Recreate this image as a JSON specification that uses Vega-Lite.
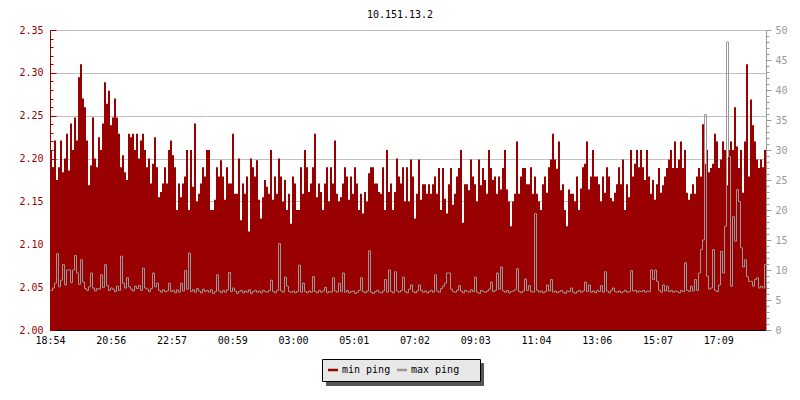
{
"$schema": "https://vega.github.io/schema/vega-lite/v6.json",
"width": 716, "height": 300,
"autosize": {"type": "none"},
"padding": {"left": 50, "top": 30, "right": 34, "bottom": 70},
"background": "white",
"title": {"text": "10.151.13.2", "font": "DejaVu Sans Mono", "fontSize": 10, "fontWeight": "normal", "color": "black", "anchor": "middle", "dx": -8, "dy": 11, "baseline": "alphabetic", "offset": 8},
"config": {"view": {"stroke": null}, "font": "DejaVu Sans Mono"},
"data": {"values": [
{"t":0,"mn":2.210,"mx":6.6},{"t":4,"mn":2.190,"mx":7.0},{"t":8,"mn":2.221,"mx":7.8},{"t":12,"mn":2.175,"mx":12.7},{"t":16,"mn":2.190,"mx":7.2},{"t":20,"mn":2.221,"mx":8.3},{"t":24,"mn":2.184,"mx":10.9},{"t":28,"mn":2.200,"mx":7.5},{"t":32,"mn":2.229,"mx":10.0},{"t":36,"mn":2.186,"mx":10.0},
{"t":40,"mn":2.241,"mx":7.9},{"t":44,"mn":2.210,"mx":10.0},{"t":48,"mn":2.248,"mx":12.4},{"t":52,"mn":2.221,"mx":9.5},{"t":56,"mn":2.295,"mx":7.6},{"t":60,"mn":2.310,"mx":11.7},{"t":64,"mn":2.270,"mx":8.0},{"t":68,"mn":2.260,"mx":6.9},{"t":72,"mn":2.221,"mx":6.6},{"t":76,"mn":2.169,"mx":7.2},
{"t":80,"mn":2.192,"mx":9.5},{"t":84,"mn":2.248,"mx":7.0},{"t":88,"mn":2.200,"mx":6.5},{"t":92,"mn":2.190,"mx":6.9},{"t":96,"mn":2.225,"mx":6.8},{"t":100,"mn":2.210,"mx":9.2},{"t":104,"mn":2.241,"mx":7.1},{"t":108,"mn":2.289,"mx":10.9},{"t":112,"mn":2.264,"mx":7.4},{"t":116,"mn":2.279,"mx":6.6},
{"t":120,"mn":2.239,"mx":7.0},{"t":124,"mn":2.248,"mx":6.8},{"t":128,"mn":2.270,"mx":6.4},{"t":132,"mn":2.248,"mx":7.3},{"t":136,"mn":2.229,"mx":6.6},{"t":140,"mn":2.190,"mx":12.3},{"t":144,"mn":2.204,"mx":7.8},{"t":148,"mn":2.184,"mx":7.0},{"t":152,"mn":2.175,"mx":8.7},{"t":156,"mn":2.229,"mx":7.2},
{"t":160,"mn":2.225,"mx":6.8},{"t":164,"mn":2.229,"mx":6.5},{"t":168,"mn":2.210,"mx":7.3},{"t":172,"mn":2.229,"mx":6.9},{"t":176,"mn":2.200,"mx":7.4},{"t":180,"mn":2.221,"mx":6.6},{"t":184,"mn":2.229,"mx":10.3},{"t":188,"mn":2.210,"mx":7.0},{"t":192,"mn":2.190,"mx":6.8},{"t":196,"mn":2.200,"mx":6.4},
{"t":200,"mn":2.171,"mx":6.9},{"t":204,"mn":2.194,"mx":9.5},{"t":208,"mn":2.225,"mx":7.2},{"t":212,"mn":2.190,"mx":7.8},{"t":216,"mn":2.155,"mx":6.6},{"t":220,"mn":2.161,"mx":6.3},{"t":224,"mn":2.171,"mx":6.7},{"t":228,"mn":2.190,"mx":6.4},{"t":232,"mn":2.171,"mx":6.5},{"t":236,"mn":2.210,"mx":7.8},
{"t":240,"mn":2.221,"mx":6.4},{"t":244,"mn":2.204,"mx":6.6},{"t":248,"mn":2.190,"mx":6.2},{"t":252,"mn":2.140,"mx":6.7},{"t":256,"mn":2.171,"mx":6.3},{"t":260,"mn":2.155,"mx":7.8},{"t":264,"mn":2.171,"mx":6.5},{"t":268,"mn":2.179,"mx":9.9},{"t":272,"mn":2.210,"mx":6.8},{"t":276,"mn":2.140,"mx":12.8},
{"t":280,"mn":2.210,"mx":6.4},{"t":284,"mn":2.167,"mx":6.7},{"t":288,"mn":2.241,"mx":6.3},{"t":292,"mn":2.150,"mx":6.9},{"t":296,"mn":2.159,"mx":6.5},{"t":300,"mn":2.171,"mx":6.2},{"t":304,"mn":2.190,"mx":6.8},{"t":308,"mn":2.179,"mx":6.4},{"t":312,"mn":2.210,"mx":6.6},{"t":316,"mn":2.210,"mx":6.3},
{"t":320,"mn":2.140,"mx":6.7},{"t":324,"mn":2.140,"mx":6.1},{"t":328,"mn":2.152,"mx":6.4},{"t":332,"mn":2.190,"mx":9.2},{"t":336,"mn":2.179,"mx":6.5},{"t":340,"mn":2.198,"mx":6.2},{"t":344,"mn":2.179,"mx":6.6},{"t":348,"mn":2.152,"mx":6.3},{"t":352,"mn":2.190,"mx":6.7},{"t":356,"mn":2.171,"mx":9.6},
{"t":360,"mn":2.171,"mx":6.4},{"t":364,"mn":2.229,"mx":7.0},{"t":368,"mn":2.159,"mx":6.5},{"t":372,"mn":2.159,"mx":6.1},{"t":376,"mn":2.200,"mx":6.4},{"t":380,"mn":2.128,"mx":6.6},{"t":384,"mn":2.171,"mx":6.2},{"t":388,"mn":2.159,"mx":6.5},{"t":392,"mn":2.179,"mx":6.3},{"t":396,"mn":2.115,"mx":6.7},
{"t":400,"mn":2.200,"mx":6.1},{"t":404,"mn":2.190,"mx":6.4},{"t":408,"mn":2.179,"mx":6.6},{"t":412,"mn":2.198,"mx":6.3},{"t":416,"mn":2.152,"mx":6.5},{"t":420,"mn":2.130,"mx":6.2},{"t":424,"mn":2.155,"mx":6.6},{"t":428,"mn":2.175,"mx":6.4},{"t":432,"mn":2.167,"mx":6.3},{"t":436,"mn":2.159,"mx":6.6},
{"t":440,"mn":2.210,"mx":8.3},{"t":444,"mn":2.152,"mx":6.4},{"t":448,"mn":2.179,"mx":6.2},{"t":452,"mn":2.159,"mx":6.6},{"t":456,"mn":2.200,"mx":14.4},{"t":460,"mn":2.179,"mx":6.5},{"t":464,"mn":2.150,"mx":6.3},{"t":468,"mn":2.175,"mx":8.8},{"t":472,"mn":2.140,"mx":7.3},{"t":476,"mn":2.159,"mx":6.4},
{"t":480,"mn":2.124,"mx":6.3},{"t":484,"mn":2.179,"mx":6.5},{"t":488,"mn":2.171,"mx":6.2},{"t":492,"mn":2.140,"mx":6.4},{"t":496,"mn":2.140,"mx":10.8},{"t":500,"mn":2.190,"mx":6.3},{"t":504,"mn":2.159,"mx":7.8},{"t":508,"mn":2.210,"mx":6.4},{"t":512,"mn":2.190,"mx":6.2},{"t":516,"mn":2.161,"mx":6.5},
{"t":520,"mn":2.171,"mx":6.3},{"t":524,"mn":2.190,"mx":8.9},{"t":528,"mn":2.229,"mx":6.4},{"t":532,"mn":2.155,"mx":6.2},{"t":536,"mn":2.171,"mx":6.6},{"t":540,"mn":2.161,"mx":6.3},{"t":544,"mn":2.140,"mx":6.5},{"t":548,"mn":2.171,"mx":7.1},{"t":552,"mn":2.190,"mx":6.2},{"t":556,"mn":2.150,"mx":6.4},
{"t":560,"mn":2.190,"mx":6.3},{"t":564,"mn":2.171,"mx":8.7},{"t":568,"mn":2.221,"mx":6.5},{"t":572,"mn":2.159,"mx":6.3},{"t":576,"mn":2.150,"mx":7.8},{"t":580,"mn":2.155,"mx":6.4},{"t":584,"mn":2.171,"mx":9.5},{"t":588,"mn":2.190,"mx":6.3},{"t":592,"mn":2.179,"mx":6.6},{"t":596,"mn":2.152,"mx":6.2},
{"t":600,"mn":2.179,"mx":6.4},{"t":604,"mn":2.159,"mx":6.5},{"t":608,"mn":2.190,"mx":6.1},{"t":612,"mn":2.171,"mx":6.3},{"t":616,"mn":2.140,"mx":6.6},{"t":620,"mn":2.159,"mx":8.7},{"t":624,"mn":2.136,"mx":6.4},{"t":628,"mn":2.161,"mx":6.2},{"t":632,"mn":2.150,"mx":6.5},{"t":636,"mn":2.183,"mx":13.2},
{"t":640,"mn":2.190,"mx":6.3},{"t":644,"mn":2.190,"mx":6.1},{"t":648,"mn":2.171,"mx":6.4},{"t":652,"mn":2.171,"mx":6.6},{"t":656,"mn":2.161,"mx":6.3},{"t":660,"mn":2.159,"mx":6.2},{"t":664,"mn":2.190,"mx":6.5},{"t":668,"mn":2.140,"mx":8.4},{"t":672,"mn":2.210,"mx":6.3},{"t":676,"mn":2.161,"mx":10.0},
{"t":680,"mn":2.171,"mx":6.4},{"t":684,"mn":2.140,"mx":6.2},{"t":688,"mn":2.161,"mx":9.7},{"t":692,"mn":2.200,"mx":6.5},{"t":696,"mn":2.179,"mx":6.3},{"t":700,"mn":2.171,"mx":6.6},{"t":704,"mn":2.190,"mx":8.8},{"t":708,"mn":2.150,"mx":6.4},{"t":712,"mn":2.190,"mx":6.2},{"t":716,"mn":2.150,"mx":6.8},
{"t":720,"mn":2.199,"mx":7.5},{"t":724,"mn":2.179,"mx":6.4},{"t":728,"mn":2.130,"mx":6.2},{"t":732,"mn":2.159,"mx":6.5},{"t":736,"mn":2.199,"mx":7.5},{"t":740,"mn":2.152,"mx":6.6},{"t":744,"mn":2.170,"mx":6.3},{"t":748,"mn":2.170,"mx":6.5},{"t":752,"mn":2.159,"mx":6.2},{"t":756,"mn":2.170,"mx":6.4},
{"t":760,"mn":2.159,"mx":6.6},{"t":764,"mn":2.170,"mx":6.3},{"t":768,"mn":2.179,"mx":9.2},{"t":772,"mn":2.159,"mx":6.5},{"t":776,"mn":2.189,"mx":6.3},{"t":780,"mn":2.140,"mx":6.9},{"t":784,"mn":2.189,"mx":7.3},{"t":788,"mn":2.153,"mx":7.8},{"t":792,"mn":2.136,"mx":9.5},{"t":796,"mn":2.170,"mx":9.5},
{"t":800,"mn":2.189,"mx":6.8},{"t":804,"mn":2.146,"mx":6.4},{"t":808,"mn":2.159,"mx":6.3},{"t":812,"mn":2.179,"mx":6.6},{"t":816,"mn":2.189,"mx":7.4},{"t":820,"mn":2.210,"mx":6.5},{"t":824,"mn":2.125,"mx":6.2},{"t":828,"mn":2.170,"mx":6.6},{"t":832,"mn":2.170,"mx":6.4},{"t":836,"mn":2.163,"mx":6.3},
{"t":840,"mn":2.199,"mx":6.7},{"t":844,"mn":2.179,"mx":6.4},{"t":848,"mn":2.170,"mx":8.8},{"t":852,"mn":2.150,"mx":6.3},{"t":856,"mn":2.199,"mx":6.1},{"t":860,"mn":2.169,"mx":6.6},{"t":864,"mn":2.189,"mx":6.4},{"t":868,"mn":2.175,"mx":6.3},{"t":872,"mn":2.159,"mx":6.5},{"t":876,"mn":2.210,"mx":6.8},
{"t":880,"mn":2.189,"mx":8.0},{"t":884,"mn":2.175,"mx":6.4},{"t":888,"mn":2.179,"mx":6.6},{"t":892,"mn":2.159,"mx":9.5},{"t":896,"mn":2.179,"mx":6.8},{"t":900,"mn":2.164,"mx":10.5},{"t":904,"mn":2.189,"mx":6.5},{"t":908,"mn":2.210,"mx":6.3},{"t":912,"mn":2.164,"mx":6.6},{"t":916,"mn":2.150,"mx":6.2},
{"t":920,"mn":2.121,"mx":6.4},{"t":924,"mn":2.150,"mx":6.5},{"t":928,"mn":2.159,"mx":6.7},{"t":932,"mn":2.220,"mx":10.2},{"t":936,"mn":2.159,"mx":6.4},{"t":940,"mn":2.179,"mx":6.2},{"t":944,"mn":2.189,"mx":6.5},{"t":948,"mn":2.189,"mx":8.5},{"t":952,"mn":2.170,"mx":6.6},{"t":956,"mn":2.170,"mx":7.4},
{"t":960,"mn":2.190,"mx":6.4},{"t":964,"mn":2.159,"mx":6.3},{"t":968,"mn":2.179,"mx":19.4},{"t":972,"mn":2.159,"mx":6.6},{"t":976,"mn":2.150,"mx":6.3},{"t":980,"mn":2.140,"mx":6.5},{"t":984,"mn":2.170,"mx":6.2},{"t":988,"mn":2.179,"mx":6.4},{"t":992,"mn":2.160,"mx":7.5},{"t":996,"mn":2.190,"mx":6.5},
{"t":1000,"mn":2.199,"mx":8.4},{"t":1004,"mn":2.229,"mx":6.3},{"t":1008,"mn":2.199,"mx":6.5},{"t":1012,"mn":2.188,"mx":6.2},{"t":1016,"mn":2.220,"mx":6.4},{"t":1020,"mn":2.163,"mx":6.6},{"t":1024,"mn":2.170,"mx":6.3},{"t":1028,"mn":2.140,"mx":6.1},{"t":1032,"mn":2.121,"mx":6.5},{"t":1036,"mn":2.164,"mx":6.4},
{"t":1040,"mn":2.159,"mx":7.0},{"t":1044,"mn":2.159,"mx":6.3},{"t":1048,"mn":2.150,"mx":6.1},{"t":1052,"mn":2.179,"mx":6.4},{"t":1056,"mn":2.140,"mx":6.6},{"t":1060,"mn":2.165,"mx":6.3},{"t":1064,"mn":2.190,"mx":6.5},{"t":1068,"mn":2.194,"mx":8.0},{"t":1072,"mn":2.220,"mx":6.4},{"t":1076,"mn":2.164,"mx":7.5},
{"t":1080,"mn":2.179,"mx":6.3},{"t":1084,"mn":2.210,"mx":6.5},{"t":1088,"mn":2.179,"mx":6.2},{"t":1092,"mn":2.179,"mx":6.6},{"t":1096,"mn":2.170,"mx":6.4},{"t":1100,"mn":2.150,"mx":7.4},{"t":1104,"mn":2.179,"mx":6.3},{"t":1108,"mn":2.160,"mx":9.7},{"t":1112,"mn":2.190,"mx":6.5},{"t":1116,"mn":2.179,"mx":6.2},
{"t":1120,"mn":2.154,"mx":6.6},{"t":1124,"mn":2.150,"mx":7.0},{"t":1128,"mn":2.160,"mx":6.4},{"t":1132,"mn":2.170,"mx":6.3},{"t":1136,"mn":2.190,"mx":6.5},{"t":1140,"mn":2.170,"mx":6.2},{"t":1144,"mn":2.199,"mx":6.4},{"t":1148,"mn":2.140,"mx":6.6},{"t":1152,"mn":2.170,"mx":6.3},{"t":1156,"mn":2.155,"mx":6.4},
{"t":1160,"mn":2.210,"mx":9.9},{"t":1164,"mn":2.179,"mx":6.5},{"t":1168,"mn":2.194,"mx":6.6},{"t":1172,"mn":2.210,"mx":6.3},{"t":1176,"mn":2.190,"mx":6.5},{"t":1180,"mn":2.210,"mx":6.4},{"t":1184,"mn":2.190,"mx":6.6},{"t":1188,"mn":2.175,"mx":6.3},{"t":1192,"mn":2.210,"mx":6.5},{"t":1196,"mn":2.179,"mx":6.4},
{"t":1200,"mn":2.159,"mx":10.0},{"t":1204,"mn":2.175,"mx":8.4},{"t":1208,"mn":2.152,"mx":10.0},{"t":1212,"mn":2.170,"mx":8.1},{"t":1216,"mn":2.189,"mx":6.6},{"t":1220,"mn":2.160,"mx":6.3},{"t":1224,"mn":2.169,"mx":7.5},{"t":1228,"mn":2.179,"mx":6.5},{"t":1232,"mn":2.189,"mx":7.3},{"t":1236,"mn":2.199,"mx":6.4},
{"t":1240,"mn":2.210,"mx":6.6},{"t":1244,"mn":2.189,"mx":6.3},{"t":1248,"mn":2.220,"mx":6.5},{"t":1252,"mn":2.189,"mx":6.4},{"t":1256,"mn":2.199,"mx":6.2},{"t":1260,"mn":2.220,"mx":6.6},{"t":1264,"mn":2.189,"mx":6.4},{"t":1268,"mn":2.210,"mx":11.2},{"t":1272,"mn":2.160,"mx":6.6},{"t":1276,"mn":2.152,"mx":6.4},
{"t":1280,"mn":2.159,"mx":7.3},{"t":1284,"mn":2.170,"mx":6.5},{"t":1288,"mn":2.159,"mx":8.4},{"t":1292,"mn":2.179,"mx":6.6},{"t":1296,"mn":2.189,"mx":9.5},{"t":1300,"mn":2.179,"mx":13.4},{"t":1304,"mn":2.240,"mx":15.0},{"t":1308,"mn":2.194,"mx":35.9},{"t":1312,"mn":2.210,"mx":9.0},{"t":1316,"mn":2.184,"mx":6.8},
{"t":1320,"mn":2.189,"mx":7.0},{"t":1324,"mn":2.194,"mx":13.4},{"t":1328,"mn":2.229,"mx":6.6},{"t":1332,"mn":2.220,"mx":6.4},{"t":1336,"mn":2.189,"mx":7.5},{"t":1340,"mn":2.199,"mx":13.1},{"t":1344,"mn":2.220,"mx":9.5},{"t":1348,"mn":2.210,"mx":17.3},{"t":1352,"mn":2.169,"mx":48.0},{"t":1356,"mn":2.210,"mx":28.9},
{"t":1360,"mn":2.220,"mx":7.3},{"t":1364,"mn":2.210,"mx":18.9},{"t":1368,"mn":2.260,"mx":14.8},{"t":1372,"mn":2.214,"mx":23.4},{"t":1376,"mn":2.189,"mx":21.4},{"t":1380,"mn":2.210,"mx":13.7},{"t":1384,"mn":2.160,"mx":10.5},{"t":1388,"mn":2.220,"mx":11.7},{"t":1392,"mn":2.310,"mx":8.9},{"t":1396,"mn":2.179,"mx":8.1},
{"t":1400,"mn":2.269,"mx":8.1},{"t":1404,"mn":2.239,"mx":7.3},{"t":1408,"mn":2.220,"mx":8.4},{"t":1412,"mn":2.199,"mx":8.7},{"t":1416,"mn":2.189,"mx":7.0},{"t":1420,"mn":2.199,"mx":7.3},{"t":1424,"mn":2.190,"mx":7.0},{"t":1428,"mn":2.210,"mx":10.9},{"t":1432,"mn":2.210,"mx":10.9}
]},
"layer": [
 {"mark": {"type": "area", "interpolate": "step-after", "color": "#990000", "opacity": 1},
  "encoding": {
   "x": {"field": "t", "type": "quantitative", "scale": {"domain": [0, 1432], "nice": false, "zero": false},
     "axis": {"title": null, "values": [0,121.5,243,364.5,486,607.5,729,850.5,972,1093.5,1215,1336.5],
       "labelExpr": "['18:54','20:56','22:57','00:59','03:00','05:01','07:02','09:03','11:04','13:06','15:07','17:09'][round(datum.value/121.5)]",
       "grid": false, "domainColor": "black", "tickColor": "black", "tickSize": -5, "labelPadding": 10,
       "labelFont": "DejaVu Sans Mono", "labelFontSize": 10, "labelColor": "black", "labelFlush": false, "labelOverlap": false, "labelBound": false, "labelAngle": 0, "labelBaseline": "top"}},
   "y": {"field": "mn", "type": "quantitative", "scale": {"domain": [2, 2.35], "zero": false, "nice": false},
     "axis": {"title": null, "orient": "left",
       "values": [2,2.01,2.02,2.03,2.04,2.05,2.06,2.07,2.08,2.09,2.1,2.11,2.12,2.13,2.14,2.15,2.16,2.17,2.18,2.19,2.2,2.21,2.22,2.23,2.24,2.25,2.26,2.27,2.28,2.29,2.3,2.31,2.32,2.33,2.34,2.35],
       "format": ".2f",
       "labelExpr": "abs(datum.value*20 - round(datum.value*20)) < 0.001 ? datum.label : ''",
       "grid": true, "gridColor": "#c0c0c0",
       "gridOpacity": {"condition": {"test": "abs(datum.value*20 - round(datum.value*20)) < 0.001", "value": 1}, "value": 0},
       "domainColor": "#990000", "tickColor": "#990000",
       "tickSize": {"condition": {"test": "abs(datum.value*20 - round(datum.value*20)) < 0.001", "value": -6}, "value": -3},
       "labelPadding": 13, "labelColor": "#990000", "labelFont": "DejaVu Sans Mono", "labelFontSize": 10,
       "labelOverlap": false, "labelFlush": false, "labelBound": false}},
   "y2": {"datum": 2}
  }},
 {"mark": {"type": "line", "interpolate": "step-after", "color": "#999999", "strokeWidth": 1, "xOffset": 0.5},
  "encoding": {
   "x": {"field": "t", "type": "quantitative"},
   "y": {"field": "mx", "type": "quantitative", "scale": {"domain": [0, 50], "nice": false, "zero": true},
     "axis": {"title": null, "orient": "right",
       "values": [0,1,2,3,4,5,6,7,8,9,10,11,12,13,14,15,16,17,18,19,20,21,22,23,24,25,26,27,28,29,30,31,32,33,34,35,36,37,38,39,40,41,42,43,44,45,46,47,48,49,50],
       "format": "d",
       "labelExpr": "datum.value % 5 == 0 ? datum.label : ''",
       "grid": false, "domainColor": "#999999", "tickColor": "#999999",
       "tickSize": {"condition": {"test": "datum.value % 5 == 0", "value": 5}, "value": 3},
       "labelPadding": 4, "labelColor": "#999999", "labelFont": "DejaVu Sans Mono", "labelFontSize": 10,
       "labelOverlap": false, "labelFlush": false, "labelBound": false}}
  }},
 {"data": {"values": [{"s": "min ping"}, {"s": "max ping"}]},
  "mark": {"type": "point", "filled": true, "shape": "M-1,-0.25H1V0.25H-1Z"},
  "encoding": {
   "color": {"field": "s", "type": "nominal", "scale": {"domain": ["min ping", "max ping"], "range": ["#990000", "#999999"]},
     "legend": {"orient": "none", "legendX": 272, "legendY": 329, "direction": "horizontal", "columns": 2, "title": null,
       "values": ["min ping", "max ping"],
       "fillColor": "#e8e8e8", "strokeColor": "black", "padding": 6,
       "symbolType": "M-1,-0.25H1V0.25H-1Z", "symbolSize": 100, "symbolOpacity": 1, "symbolStrokeWidth": 0,
       "labelFont": "DejaVu Sans Mono", "labelFontSize": 10, "labelColor": "black", "labelOffset": 4, "columnPadding": 6,
       "labelExpr": "datum.label == 'max ping' ? 'max ping\u2800\u2800' : datum.label", "zindex": 1}},
   "opacity": {"field": "s", "type": "ordinal", "scale": {"domain": ["max ping", "min ping"], "range": [0, 0]},
     "legend": {"orient": "none", "legendX": 276, "legendY": 333, "title": null,
       "values": ["min ping"], "clipHeight": 10,
       "fillColor": "#555555", "strokeColor": "#555555", "padding": 6,
       "symbolType": "M-1,-0.02H1V0.02H-1Z", "symbolSize": 21025, "symbolOpacity": 0, "symbolStrokeWidth": 0,
       "labelFontSize": 10, "labelOffset": 0, "labelExpr": "''", "zindex": 0}}
  }}
],
"resolve": {"scale": {"y": "independent", "color": "independent", "opacity": "independent"}}
}
